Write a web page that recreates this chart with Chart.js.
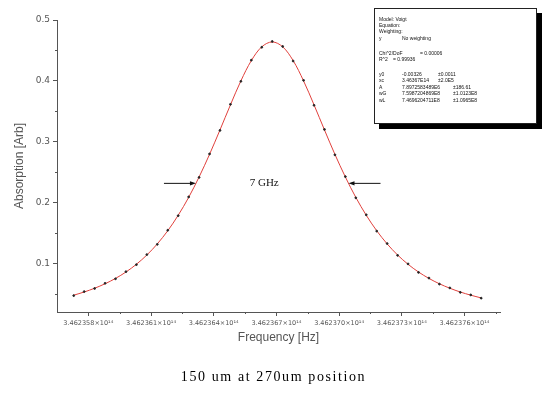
<!DOCTYPE html>
<html>
<head>
<meta charset="utf-8">
<script src="https://cdn.jsdelivr.net/npm/chart.js@4"></script>
<style>
  body { margin: 0; background: #fff; }
  #wrap { position: relative; width: 547px; height: 408px; }
  #fitbox {
    position: absolute; left: 374px; top: 8px; width: 161px; height: 114px;
    background: #fff; border: 1px solid #222; box-shadow: 5px 5px 0 #000;
    font-family: 'Liberation Sans', sans-serif; font-size: 5px; color: #111;
  }
  #fitbox span { position: absolute; white-space: nowrap; line-height: 6px; }
  #caption {
    position: absolute; left: 0; width: 547px; top: 369px; text-align: center;
    font-family: 'Liberation Serif', serif; font-size: 14px; letter-spacing: 1.6px; color: #000;
  }
</style>
</head>
<body>
<div id="wrap">
  <canvas id="c" width="547" height="408"></canvas>
  <div id="fitbox"></div>
  <div id="caption">150 um at 270um position</div>
</div>
<script>
// ── Data (frequency in Hz, absorption in arb. units) ──
const FREQ_HZ = [
  3.4623573e14, 3.4623578e14, 3.4623583e14, 3.4623588e14, 3.4623593e14,
  3.4623598e14, 3.4623603e14, 3.4623608e14, 3.4623613e14, 3.4623618e14,
  3.4623623e14, 3.4623628e14, 3.4623633e14, 3.4623638e14, 3.4623643e14,
  3.4623648e14, 3.4623653e14, 3.4623658e14, 3.4623663e14, 3.4623668e14,
  3.4623673e14, 3.4623678e14, 3.4623683e14, 3.4623688e14, 3.4623693e14,
  3.4623698e14, 3.4623703e14, 3.4623708e14, 3.4623713e14, 3.4623718e14,
  3.4623723e14, 3.4623728e14, 3.4623733e14, 3.4623738e14, 3.4623743e14,
  3.4623748e14, 3.4623753e14, 3.4623758e14, 3.4623763e14, 3.4623768e14
];
const ABS_MEASURED = [
  0.0479, 0.0545, 0.0596, 0.0681, 0.0755, 0.0872, 0.0987, 0.1152, 0.1320, 0.1551,
  0.1790, 0.2098, 0.2418, 0.2803, 0.3189, 0.3617, 0.3994, 0.4341, 0.4553, 0.4648,
  0.4566, 0.4327, 0.4010, 0.3601, 0.3205, 0.2788, 0.2431, 0.2083, 0.1804, 0.1537,
  0.1333, 0.1139, 0.0999, 0.0860, 0.0767, 0.0668, 0.0605, 0.0532, 0.0490, 0.0437
];
const ABS_FIT = [
  0.0486, 0.0538, 0.0600, 0.0673, 0.0761, 0.0866, 0.0993, 0.1145, 0.1327, 0.1543,
  0.1797, 0.2090, 0.2425, 0.2796, 0.3197, 0.3608, 0.4001, 0.4334, 0.4560, 0.4640,
  0.4560, 0.4334, 0.4001, 0.3608, 0.3197, 0.2796, 0.2425, 0.2090, 0.1797, 0.1543,
  0.1327, 0.1145, 0.0993, 0.0866, 0.0761, 0.0673, 0.0600, 0.0538, 0.0486, 0.0441
];
const X_TICKS = [3.462358e14, 3.462361e14, 3.462364e14, 3.462367e14, 3.46237e14, 3.462373e14, 3.462376e14];
const X_MINOR = [3.4623595e14, 3.4623625e14, 3.4623655e14, 3.4623685e14, 3.4623715e14, 3.4623745e14, 3.4623775e14];
const Y_TICKS = [0.1, 0.2, 0.3, 0.4, 0.5];
const Y_MINOR = [0.05, 0.15, 0.25, 0.35, 0.45];
const X_MIN = 3.4623565e14, X_MAX = 3.4623777e14;
const Y_MIN = 0.021, Y_MAX = 0.5;

// FWHM markers
const HALF_MAX = 0.232;
const HALF_LEFT = 3.46236315e14;
const HALF_RIGHT = 3.46237045e14;
const FWHM_LABEL = '7 GHz';

// fit report lines: [text, left, top]
const FIT_TEXT = [
  ['Model: Voigt', 4, 10], ['Equation:', 4, 16], ['Weighting:', 4, 22],
  ['y', 4, 29], ['No weighting', 27, 29],
  ['Chi^2/DoF', 4, 44], ['= 0.00006', 45, 44],
  ['R^2', 4, 50], ['=  0.99936', 18, 50],
  ['y0', 4, 65], ['-0.00326', 27, 65], ['\u00b10.0011', 63, 65],
  ['xc', 4, 71], ['3.46367E14', 27, 71], ['\u00b12.0E5', 63, 71],
  ['A', 4, 78], ['7.8972583489E6', 27, 78], ['\u00b1186.61', 78, 78],
  ['wG', 4, 84], ['7.5987204869E8', 27, 84], ['\u00b11.0123E8', 78, 84],
  ['wL', 4, 91], ['7.4696204711E8', 27, 91], ['\u00b11.0965E8', 78, 91]
];

const box = document.getElementById('fitbox');
FIT_TEXT.forEach(([t, x, y]) => {
  const s = document.createElement('span');
  s.textContent = t;
  s.style.left = x + 'px';
  s.style.top = (y - 3) + 'px';
  box.appendChild(s);
});

const AXIS = '#555';

// minor ticks + FWHM arrows
const extras = {
  id: 'extras',
  afterDraw(chart) {
    const { ctx, scales: { x, y } } = chart;
    ctx.save();
    ctx.strokeStyle = AXIS;
    ctx.lineWidth = 1;
    X_MINOR.forEach(v => {
      const px = Math.round(x.getPixelForValue(v)) + 0.5;
      ctx.beginPath(); ctx.moveTo(px, y.bottom); ctx.lineTo(px, y.bottom + 2); ctx.stroke();
    });
    Y_MINOR.forEach(v => {
      const py = Math.round(y.getPixelForValue(v)) + 0.5;
      ctx.beginPath(); ctx.moveTo(x.left, py); ctx.lineTo(x.left - 2, py); ctx.stroke();
    });

    const yh = y.getPixelForValue(HALF_MAX);
    const xl = x.getPixelForValue(HALF_LEFT);
    const xr = x.getPixelForValue(HALF_RIGHT);
    ctx.strokeStyle = '#111';
    ctx.fillStyle = '#111';
    const arrow = (x0, x1) => {
      const dir = Math.sign(x1 - x0);
      ctx.beginPath(); ctx.moveTo(x0, yh); ctx.lineTo(x1 - dir * 3, yh); ctx.stroke();
      ctx.beginPath();
      ctx.moveTo(x1, yh); ctx.lineTo(x1 - dir * 6, yh - 2.2); ctx.lineTo(x1 - dir * 6, yh + 2.2);
      ctx.closePath(); ctx.fill();
    };
    arrow(xl - 32, xl);
    arrow(xr + 32, xr);
    ctx.font = "11px 'Liberation Serif', serif";
    ctx.textAlign = 'center';
    ctx.textBaseline = 'middle';
    ctx.fillText(FWHM_LABEL, (xl + xr) / 2 - 8, yh);
    ctx.restore();
  }
};

new Chart(document.getElementById('c'), {
  type: 'scatter',
  data: {
    datasets: [
      {
        label: 'measured',
        data: FREQ_HZ.map((f, i) => ({ x: f, y: ABS_MEASURED[i] })),
        backgroundColor: '#222',
        borderColor: '#222',
        pointRadius: 0.9,
        showLine: false,
        order: 0
      },
      {
        label: 'fit',
        data: FREQ_HZ.map((f, i) => ({ x: f, y: ABS_FIT[i] })),
        borderColor: '#e0403c',
        borderWidth: 1,
        pointRadius: 0,
        showLine: true,
        tension: 0.35,
        order: 1
      }
    ]
  },
  options: {
    responsive: false,
    animation: false,
    devicePixelRatio: 1,
    layout: { padding: { left: 12, top: 20, right: 47, bottom: 63 } },
    plugins: { legend: { display: false }, tooltip: { enabled: false } },
    scales: {
      x: {
        type: 'linear', min: X_MIN, max: X_MAX,
        afterBuildTicks: s => { s.ticks = X_TICKS.map(v => ({ value: v })); },
        afterFit: s => { s.height = 33; },
        grid: { drawOnChartArea: false, drawTicks: true, tickLength: 4, color: AXIS },
        border: { display: true, color: AXIS, width: 1 },
        ticks: {
          color: '#555', padding: 3, maxRotation: 0, autoSkip: false,
          font: { family: "'DejaVu Sans', sans-serif", size: 6.5 },
          callback: v => (v / 1e14).toFixed(6) + '\u00d710\u00b9\u2074'
        },
        title: {
          display: true, text: 'Frequency [Hz]', color: '#555', padding: 0,
          font: { family: "'Liberation Sans', sans-serif", size: 12 }
        }
      },
      y: {
        type: 'linear', min: Y_MIN, max: Y_MAX,
        afterBuildTicks: s => { s.ticks = Y_TICKS.map(v => ({ value: v })); },
        afterFit: s => { s.width = 45; },
        grid: { drawOnChartArea: false, drawTicks: true, tickLength: 4, color: AXIS },
        border: { display: true, color: AXIS, width: 1 },
        ticks: {
          color: '#555', padding: 3,
          font: { family: "'DejaVu Sans', sans-serif", size: 9 },
          callback: v => v.toFixed(1)
        },
        title: {
          display: true, text: 'Absorption [Arb]', color: '#555', padding: 0,
          font: { family: "'Liberation Sans', sans-serif", size: 12 }
        }
      }
    }
  },
  plugins: [extras]
});
</script>
</body>
</html>
